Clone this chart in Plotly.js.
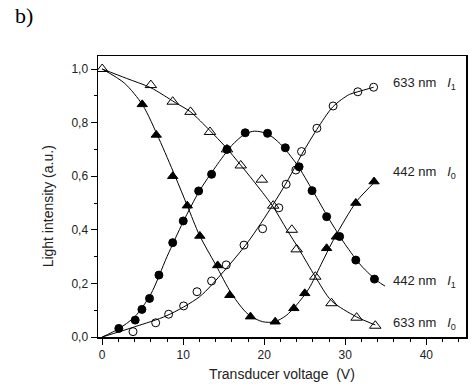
<!DOCTYPE html>
<html><head><meta charset="utf-8">
<script src="https://cdn.plot.ly/plotly-3.0.1.min.js"></script>
<style>html,body{margin:0;padding:0;background:#fff}#chart{width:472px;height:385px}</style>
</head><body><div id="chart"></div>
<script>
// Measured points (Transducer voltage V, Light intensity a.u.)
const red633_I0_x = [0, 6.0, 8.7, 10.9, 13.3, 15.4, 17.1, 19.7, 21.1, 23.4, 24.0, 26.3, 28.3, 31.4, 33.7];
const red633_I0_y = [1.0, 0.94, 0.878, 0.84, 0.765, 0.70, 0.64, 0.587, 0.49, 0.40, 0.327, 0.225, 0.126, 0.072, 0.042];
const blue442_I0_x = [4.94, 6.67, 8.7, 10.5, 12.05, 14.25, 15.75, 18.3, 21.35, 23.65, 25.0, 27.7, 28.9, 31.3, 33.55];
const blue442_I0_y = [0.868, 0.754, 0.60, 0.49, 0.377, 0.267, 0.156, 0.076, 0.057, 0.107, 0.163, 0.331, 0.374, 0.50, 0.58];
const blue442_I1_x = [2.05, 4.07, 4.9, 5.84, 7.0, 8.7, 10.0, 11.9, 13.5, 15.4, 17.65, 20.4, 22.6, 24.3, 25.9, 27.7, 29.3, 31.3, 33.6];
const blue442_I1_y = [0.032, 0.063, 0.103, 0.144, 0.231, 0.352, 0.433, 0.545, 0.607, 0.70, 0.762, 0.76, 0.706, 0.635, 0.546, 0.449, 0.375, 0.287, 0.216];
const red633_I1_x = [3.8, 6.6, 8.2, 10.05, 11.7, 13.5, 15.3, 17.5, 19.8, 21.8, 22.7, 23.9, 24.6, 26.5, 28.5, 31.55, 33.5];
const red633_I1_y = [0.02, 0.053, 0.085, 0.116, 0.169, 0.209, 0.269, 0.343, 0.404, 0.482, 0.57, 0.623, 0.692, 0.779, 0.862, 0.915, 0.932];

// Fitted curves
const fit633_I0_x = [0, 3, 6, 9, 10.9, 13.3, 15.2, 17, 18.6, 21, 22.8, 24.3, 26.3, 28.3, 31.4, 33.7];
const fit633_I0_y = [1.0, 0.965, 0.93, 0.875, 0.84, 0.77, 0.71, 0.645, 0.585, 0.49, 0.40, 0.327, 0.225, 0.135, 0.075, 0.045];
const fit442_I0_x = [0, 2.75, 5, 7, 9, 10.5, 12, 14, 16, 18, 19.8, 21.3, 22.7, 24, 25.5, 27, 28.5, 30, 31.5, 33.7];
const fit442_I0_y = [1.0, 0.947, 0.865, 0.74, 0.60, 0.49, 0.38, 0.27, 0.16, 0.085, 0.057, 0.057, 0.08, 0.12, 0.18, 0.27, 0.36, 0.44, 0.51, 0.58];
const fit442_I1_x = [0, 2, 4, 6, 8, 10, 12, 14, 16, 17.6, 18.8, 20.4, 22, 24, 26, 28, 30, 32, 34, 34.9];
const fit442_I1_y = [0, 0.03, 0.075, 0.16, 0.30, 0.43, 0.545, 0.635, 0.715, 0.757, 0.768, 0.758, 0.72, 0.645, 0.545, 0.44, 0.345, 0.265, 0.208, 0.19];
const fit633_I1_x = [0, 4, 8, 12, 15, 18, 21, 23, 24.6, 26.5, 28.5, 30.5, 31.55, 33.5];
const fit633_I1_y = [0, 0.038, 0.08, 0.15, 0.245, 0.355, 0.49, 0.59, 0.68, 0.775, 0.86, 0.905, 0.915, 0.932];

const xTicks = [0, 10, 20, 30, 40];
const yTicks = [0, 0.2, 0.4, 0.6, 0.8, 1.0];

const lineStyle = {color: '#000', width: 1, shape: 'spline', smoothing: 0.8};
function fitTrace(x, y) { return {x, y, mode: 'lines', line: lineStyle, hoverinfo: 'skip', showlegend: false}; }
function ptTrace(x, y, sym, size) {
  return {x, y, mode: 'markers', showlegend: false,
    marker: {symbol: sym, size: size, color: '#000', line: {color: '#000', width: 1}}};
}

const data = [
  fitTrace(fit633_I0_x, fit633_I0_y),
  fitTrace(fit442_I0_x, fit442_I0_y),
  fitTrace(fit442_I1_x, fit442_I1_y),
  fitTrace(fit633_I1_x, fit633_I1_y),
  ptTrace(blue442_I0_x, blue442_I0_y, 'triangle-up', 9),
  ptTrace(blue442_I1_x, blue442_I1_y, 'circle', 8),
  ptTrace(red633_I0_x, red633_I0_y, 'triangle-up-open', 10),
  ptTrace(red633_I1_x, red633_I1_y, 'circle-open', 8)
];

const font = {family: 'Liberation Sans, Arial, sans-serif', size: 12, color: '#222'};
const labFont = {family: 'Liberation Sans, Arial, sans-serif', size: 13, color: '#222'};
function lab(y, txt) {
  return {x: 35.6, y: y, xref: 'x', yref: 'y', xanchor: 'left', yanchor: 'middle', showarrow: false, text: txt, font: labFont};
}
const sp = '&nbsp;&nbsp;&nbsp;';
const layout = {
  width: 472, height: 385,
  margin: {l: 98, r: 6, t: 56, b: 48},
  paper_bgcolor: '#fff', plot_bgcolor: '#fff',
  separators: ',.',
  font: font,
  xaxis: {
    range: [-0.52, 44.9], tickvals: xTicks, ticks: 'outside', ticklen: 6, tickwidth: 1, tickcolor: '#000',
    minor: {dtick: 2, tick0: 0, ticks: 'outside', ticklen: 3, tickcolor: '#000', showgrid: false},
    showline: true, linecolor: '#000', linewidth: 1.5, mirror: true, showgrid: false, zeroline: false,
    tickfont: {size: 12}, fixedrange: true,
    title: {text: 'Transducer voltage&nbsp;&nbsp;(V)', font: {size: 14, color: '#222'}, standoff: 8}
  },
  yaxis: {
    range: [0, 1.0485], tickvals: yTicks, tickformat: '.1f', ticks: 'outside', ticklen: 6, tickwidth: 1, tickcolor: '#000',
    minor: {dtick: 0.1, tick0: 0, ticks: 'outside', ticklen: 3, tickcolor: '#000', showgrid: false},
    showline: true, linecolor: '#000', linewidth: 1.5, mirror: true, showgrid: false, zeroline: false,
    tickfont: {size: 12}, fixedrange: true
  },
  annotations: [
    lab(0.947, '633 nm' + sp + '<i>I</i><sub>1</sub>'),
    lab(0.613, '442 nm' + sp + '<i>I</i><sub>0</sub>'),
    lab(0.206, '442 nm' + sp + '<i>I</i><sub>1</sub>'),
    lab(0.051, '633 nm' + sp + '<i>I</i><sub>0</sub>'),
    {xref: 'paper', yref: 'paper', x: -0.135, y: 0.466, xanchor: 'center', yanchor: 'middle', showarrow: false,
     textangle: -90, text: 'Light intensity (a.u.)', font: {size: 14, color: '#222'}},
    {xref: 'paper', yref: 'paper', x: -0.2, y: 1.145, xanchor: 'center', yanchor: 'middle', showarrow: false,
     text: 'b)', font: {family: 'Liberation Serif, Times New Roman, serif', size: 22, color: '#000'}}
  ],
  showlegend: false
};
Plotly.newPlot('chart', data, layout, {staticPlot: true, displayModeBar: false});
</script></body></html>
